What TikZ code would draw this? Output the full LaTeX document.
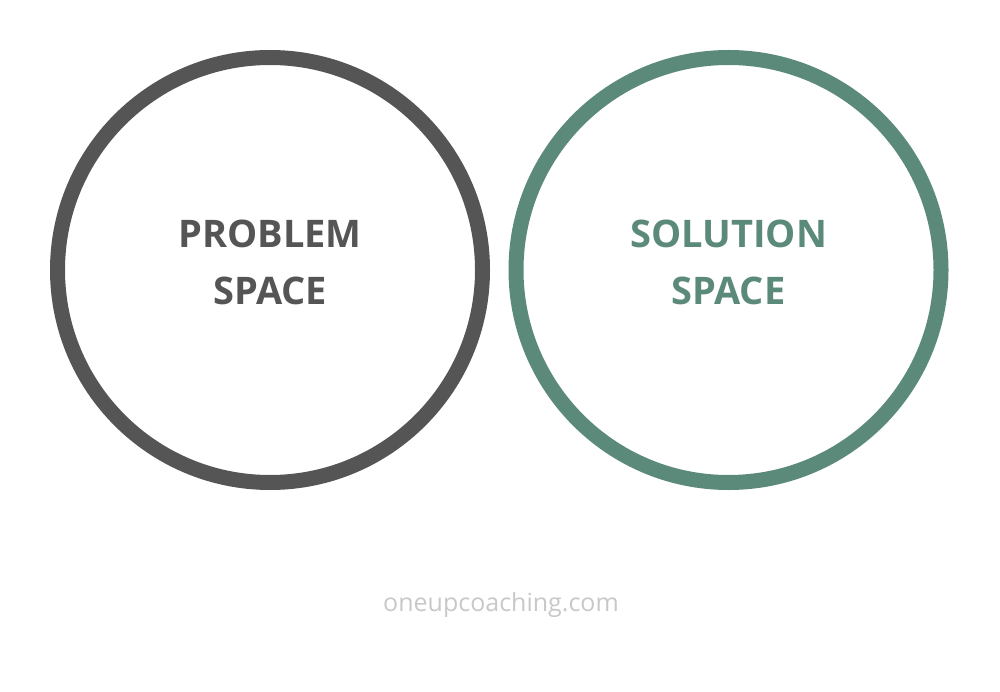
\documentclass[tikz,border=0pt]{standalone}
\usepackage{fontspec}
\setmainfont{Open Sans}
\definecolor{probgray}{HTML}{555555}
\definecolor{solgreen}{HTML}{5B8A7B}
\definecolor{sitegray}{HTML}{C8C8C8}
\tikzset{
  title/.style = {anchor = base, font = \bfseries\fontsize{38}{42}\selectfont},
}
\begin{document}
\begin{tikzpicture}[x=1pt,y=-1pt]
  \useasboundingbox (0,0) rectangle (1000,692);

  \draw [color = probgray, line width = 15pt] (270,270) circle (212.5);
    \node [title, text = probgray] (prob1) at (270,248) {PROBLEM};
    \node [title, text = probgray] (prob2) at (270,304.5) {SPACE};

  \draw [color = solgreen, line width = 15pt] (728.5,270) circle (212.5);
    \node [title, text = solgreen] (sol1) at (728.5,248) {SOLUTION};
    \node [title, text = solgreen] (sol2) at (728.5,304.5) {SPACE};

  \node [anchor = base, text = sitegray, font = \fontsize{25}{28}\selectfont] (site) at (501,611) {oneupcoaching.com};
\end{tikzpicture}
\end{document}
